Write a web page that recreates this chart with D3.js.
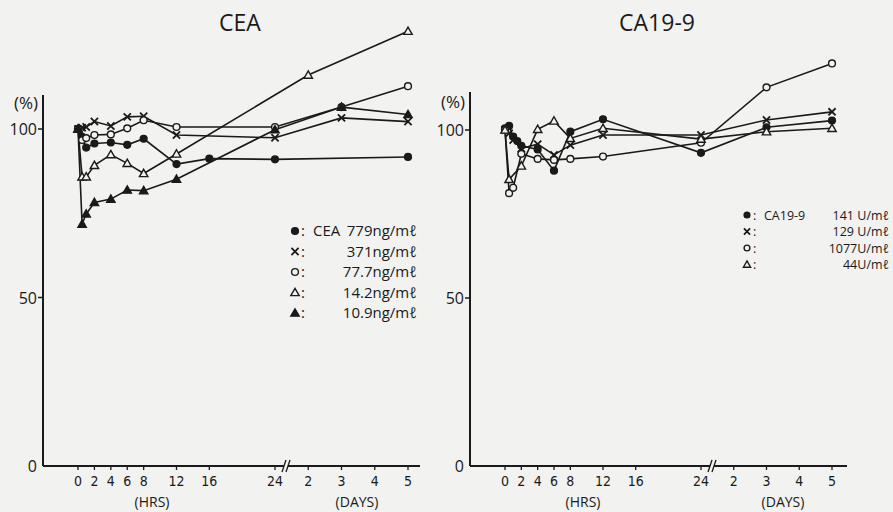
<!DOCTYPE html>
<html>
<head>
<meta charset="utf-8">
<script src="https://cdn.jsdelivr.net/npm/d3@7/dist/d3.min.js"></script>
<style>
  body { margin: 0; background: #f2f2f0; }
  svg { display: block; }
  .tick-lbl { font-family: "Liberation Sans Narrow", "DejaVu Sans Condensed", sans-serif; font-stretch: condensed; font-size: 14px; fill: #1a1a1a; }
  .lbl { font-family: "Open Sans", "DejaVu Sans", sans-serif; fill: #1a1a1a; }
</style>
</head>
<body>
<svg id="chart" width="893" height="512"></svg>
<script>
"use strict";

// tick labels
var hourTicks = [0, 2, 4, 6, 8, 12, 16, 24];
var dayTicks = [2, 3, 4, 5];
var yTicks = [0, 50, 100];

// CEA, time in hours, value in %
var cea779T = [0, 0.5, 1, 2, 4, 6, 8, 12, 16, 24, 120];
var cea779V = [100, 97.7, 94.5, 95.7, 96, 95.3, 97.1, 89.6, 91.2, 91, 91.7];
var cea371T = [0, 0.5, 1, 2, 4, 6, 8, 12, 24, 72, 120];
var cea371V = [100, 100.4, 100.6, 102.2, 100.9, 103.6, 103.8, 98.2, 97.4, 103.3, 102.2];
var cea77T = [0, 0.5, 1, 2, 4, 6, 8, 12, 24, 72, 120];
var cea77V = [100, 96.7, 97.3, 98.2, 98.4, 100.2, 102.6, 100.6, 100.6, 106.5, 112.7];
var cea14T = [0, 0.5, 1, 2, 4, 6, 8, 12, 48, 120];
var cea14V = [100, 85.8, 85.8, 89.2, 92.4, 89.8, 86.8, 92.6, 116, 129];
var cea10T = [0, 0.5, 1, 2, 4, 6, 8, 12, 24, 72, 120];
var cea10V = [100, 71.8, 74.8, 78.2, 79.2, 81.9, 81.7, 85.1, 99.8, 106.5, 104.3];

// CA19-9
var ca141T = [0, 0.5, 1, 1.5, 2, 4, 6, 8, 12, 24, 72, 120];
var ca141V = [100.5, 101.2, 98, 96.7, 95.3, 94.2, 87.9, 99.5, 103.2, 93.2, 100.8, 102.8];
var ca129T = [0, 0.5, 1, 2, 4, 6, 8, 12, 24, 72, 120];
var ca129V = [100, 99, 97, 94.5, 95.8, 92.6, 95.5, 98.5, 98.5, 103, 105.4];
var ca1077T = [0, 0.5, 1, 2, 4, 6, 8, 12, 24, 72, 120];
var ca1077V = [100, 81.2, 82.8, 92.9, 91.4, 91.1, 91.4, 92.1, 96.2, 112.7, 119.8];
var ca44T = [0, 0.5, 2, 4, 6, 8, 12, 24, 72, 120];
var ca44V = [100, 85.3, 89.3, 100.2, 102.7, 97.5, 100.5, 97.3, 99.5, 100.5];

// legend texts
var ceaLegend = ["779ng/m\u2113", "371ng/m\u2113", "77.7ng/m\u2113", "14.2ng/m\u2113", "10.9ng/m\u2113"];
var caLegend = ["141 U/m\u2113", "129 U/m\u2113", "1077U/m\u2113", "44U/m\u2113"];

var INK = "#1a1a1a";
var BG = "#f2f2f0";
var svg = d3.select("#chart");

function zip(ts, vs) {
  return ts.map(function(t, i) { return { t: t, v: vs[i] }; });
}

// marker drawing, type: dot, x, ring, tri, ftri
function marker(g, type, x, y, s) {
  s = s || 1;
  if (type === "dot" || type === "ring") {
    g.append("circle").attr("cx", x).attr("cy", y).attr("r", 3.4 * s)
      .attr("fill", type === "dot" ? INK : BG)
      .attr("stroke", INK).attr("stroke-width", 1.4);
  } else if (type === "x") {
    var d = 3.6 * s;
    g.append("path")
      .attr("d", "M" + (x - d) + "," + (y - d) + "L" + (x + d) + "," + (y + d) +
                 "M" + (x - d) + "," + (y + d) + "L" + (x + d) + "," + (y - d))
      .attr("stroke", INK).attr("stroke-width", 1.8).attr("fill", "none");
  } else {
    var h = 4.2 * s;
    g.append("path")
      .attr("d", "M" + x + "," + (y - h) + "L" + (x + h) + "," + (y + h * 0.75) +
                 "L" + (x - h) + "," + (y + h * 0.75) + "Z")
      .attr("fill", type === "ftri" ? INK : BG)
      .attr("stroke", INK).attr("stroke-width", 1.4);
  }
}

function drawPanel(cfg) {
  var g = svg.append("g");

  var x = d3.scaleLinear().domain([0, 24, 120]).range(cfg.xRange);
  var y = d3.scaleLinear().domain([0, 100]).range(cfg.yRange);

  // axes
  g.append("line")
    .attr("x1", cfg.axisX).attr("x2", cfg.axisX)
    .attr("y1", y(0)).attr("y2", cfg.axisTop)
    .attr("stroke", INK).attr("stroke-width", 2);
  g.append("line")
    .attr("x1", cfg.axisX).attr("x2", cfg.axisEnd)
    .attr("y1", y(0)).attr("y2", y(0))
    .attr("stroke", INK).attr("stroke-width", 2);

  // axis break
  var bx = cfg.breakX, by = y(0);
  g.append("rect").attr("x", bx - 2).attr("y", by - 2).attr("width", 4).attr("height", 4).attr("fill", BG);
  [-2, 2].forEach(function(o) {
    g.append("line")
      .attr("x1", bx + o - 2).attr("y1", by + 6)
      .attr("x2", bx + o + 2).attr("y2", by - 6)
      .attr("stroke", INK).attr("stroke-width", 1.3);
  });

  // y ticks
  yTicks.forEach(function(t) {
    if (t > 0) {
      g.append("line")
        .attr("x1", cfg.axisX - 5).attr("x2", cfg.axisX)
        .attr("y1", y(t)).attr("y2", y(t))
        .attr("stroke", INK).attr("stroke-width", 1.5);
    }
    g.append("text").attr("class", "lbl")
      .attr("x", cfg.axisX - 6).attr("y", y(t) + 6)
      .attr("text-anchor", "end").attr("font-size", 16)
      .text(t);
  });
  g.append("text").attr("class", "lbl")
    .attr("x", cfg.axisX - 5).attr("y", cfg.pctY)
    .attr("text-anchor", "end").attr("font-size", 17)
    .text("(%)");

  // x ticks
  var tickPos = hourTicks.map(function(h) { return { t: h, lbl: h }; })
    .concat(dayTicks.map(function(d) { return { t: d * 24, lbl: d }; }));
  tickPos.forEach(function(tp) {
    g.append("line")
      .attr("x1", x(tp.t)).attr("x2", x(tp.t))
      .attr("y1", y(0)).attr("y2", y(0) + 4)
      .attr("stroke", INK).attr("stroke-width", 1.3);
    g.append("text").attr("class", "tick-lbl")
      .attr("x", x(tp.t)).attr("y", y(0) + 20)
      .attr("text-anchor", "middle")
      .text(tp.lbl);
  });
  g.append("text").attr("class", "lbl")
    .attr("x", cfg.hrsX).attr("y", 507).attr("text-anchor", "middle").attr("font-size", 14)
    .text("(HRS)");
  g.append("text").attr("class", "lbl")
    .attr("x", cfg.daysX).attr("y", 507).attr("text-anchor", "middle").attr("font-size", 14)
    .text("(DAYS)");

  // title
  g.append("text").attr("class", "lbl")
    .attr("x", cfg.titleX).attr("y", 31).attr("text-anchor", "middle").attr("font-size", 23)
    .text(cfg.title);

  // series
  var line = d3.line().x(function(d) { return x(d.t); }).y(function(d) { return y(d.v); });
  cfg.series.forEach(function(s) {
    g.append("path").datum(s.pts)
      .attr("d", line)
      .attr("fill", "none").attr("stroke", INK).attr("stroke-width", 1.6);
  });
  cfg.series.forEach(function(s) {
    s.pts.forEach(function(p) { marker(g, s.type, x(p.t), y(p.v), 1); });
  });

  // legend
  var lg = cfg.legend;
  cfg.series.forEach(function(s, i) {
    var cy = lg.y0 + i * lg.dy;
    marker(g, s.type, lg.mx, cy, lg.ms);
    g.append("text").attr("class", "lbl")
      .attr("x", lg.mx + 6).attr("y", cy + lg.fs * 0.36).attr("font-size", lg.fs)
      .text(":");
    if (i === 0) {
      g.append("text").attr("class", "lbl")
        .attr("x", lg.nameX).attr("y", cy + lg.fs * 0.36).attr("font-size", lg.fs)
        .text(cfg.name);
    }
    g.append("text").attr("class", "lbl")
      .attr("x", lg.endX).attr("y", cy + lg.fs * 0.36).attr("font-size", lg.fs)
      .attr("text-anchor", "end")
      .text(lg.texts[i]);
  });
}

drawPanel({
  title: "CEA", name: "CEA", titleX: 240,
  xRange: [78, 275, 408], yRange: [466, 129],
  axisX: 43, axisTop: 95, axisEnd: 420, breakX: 286, pctY: 109,
  hrsX: 152, daysX: 357,
  series: [
    { type: "dot", pts: zip(cea779T, cea779V) },
    { type: "x", pts: zip(cea371T, cea371V) },
    { type: "ring", pts: zip(cea77T, cea77V) },
    { type: "tri", pts: zip(cea14T, cea14V) },
    { type: "ftri", pts: zip(cea10T, cea10V) }
  ],
  legend: { y0: 231, dy: 20.5, mx: 295, ms: 1, fs: 15, nameX: 313, endX: 417, texts: ceaLegend }
});

drawPanel({
  title: "CA19-9", name: "CA19-9", titleX: 657,
  xRange: [505, 701, 832], yRange: [466, 130],
  axisX: 470, axisTop: 92, axisEnd: 847, breakX: 712, pctY: 108,
  hrsX: 583, daysX: 783,
  series: [
    { type: "dot", pts: zip(ca141T, ca141V) },
    { type: "x", pts: zip(ca129T, ca129V) },
    { type: "ring", pts: zip(ca1077T, ca1077V) },
    { type: "tri", pts: zip(ca44T, ca44V) }
  ],
  legend: { y0: 215, dy: 16.5, mx: 747, ms: 0.85, fs: 12.5, nameX: 764, endX: 889, texts: caLegend }
});
</script>
</body>
</html>
